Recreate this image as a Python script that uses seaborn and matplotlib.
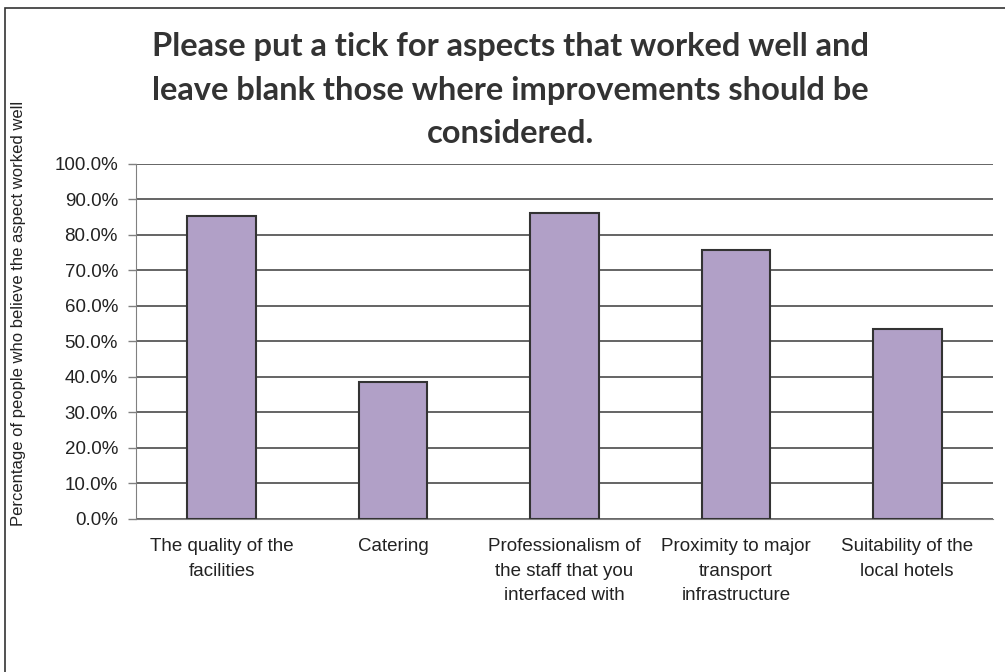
import matplotlib
matplotlib.use("Agg")
import matplotlib.pyplot as plt
import seaborn as sns
import pandas as pd
from matplotlib.patches import Rectangle

# Chart data
categories = [
    "The quality of the\nfacilities",
    "Catering",
    "Professionalism of\nthe staff that you\ninterfaced with",
    "Proximity to major\ntransport\ninfrastructure",
    "Suitability of the\nlocal hotels",
]
values = [85.3, 38.5, 86.3, 75.7, 53.6]
yticks = list(range(0, 101, 10))
ytick_labels = [f"{v:.1f}%" for v in yticks]

title = ("Please put a tick for aspects that worked well and\n"
         "leave blank those where improvements should be\n"
         "considered.")
ylabel = "Percentage of people who believe the aspect worked well"

df = pd.DataFrame({"aspect": categories, "pct": values})

sns.set_style("white")
plt.rcParams["font.family"] = ["Liberation Sans", "DejaVu Sans"]

fig = plt.figure(figsize=(10.05, 6.72), dpi=100)
ax = fig.add_axes([0.1353, 0.2277, 0.8527, 0.5283])

sns.barplot(data=df, x="aspect", y="pct", color="#b1a0c7", saturation=1,
            width=0.40, edgecolor="#333333", linewidth=1.5, ax=ax, zorder=3)

ax.set_ylim(0, 100)
ax.set_xlim(-0.5, len(categories) - 0.5)
ax.set_yticks(yticks)
ax.set_yticklabels(ytick_labels, fontsize=13.5, color="#222222")
ax.yaxis.grid(True, color="#3a3a3a", linewidth=1.1, zorder=0)
ax.set_axisbelow(True)

# category labels centred, tick marks between categories
ax.set_xticks(range(len(categories)))
ax.set_xticklabels(categories, fontsize=13.5, color="#222222", linespacing=1.55)
ax.tick_params(axis="x", which="major", length=0, pad=14)
ax.set_xticks([i - 0.5 for i in range(len(categories) + 1)], minor=True)
ax.tick_params(axis="x", which="minor", length=6, color="#808080", width=1)
ax.tick_params(axis="y", length=6, color="#808080", width=1, left=True, pad=7)

for side in ["top", "right"]:
    ax.spines[side].set_visible(False)
ax.spines["left"].set_color("#808080")
ax.spines["bottom"].set_color("#808080")

ax.set_xlabel("")
ax.set_ylabel("")
fig.text(0.018, 0.533, ylabel, rotation=90, ha="center", va="center",
         fontsize=12, color="#222222")

fig.text(0.508, 0.866, title, ha="center", va="center", fontsize=23.5,
         fontweight="bold", family=["Lato", "DejaVu Sans"], color="#333333",
         linespacing=1.6)

# outer chart border
fig.patches.append(Rectangle((5 / 1005, -0.01), 1.02, 1 - 8 / 672 + 0.01,
                             transform=fig.transFigure, fill=False,
                             edgecolor="#333333", linewidth=1.2))

fig.savefig("out.png", dpi=100)
